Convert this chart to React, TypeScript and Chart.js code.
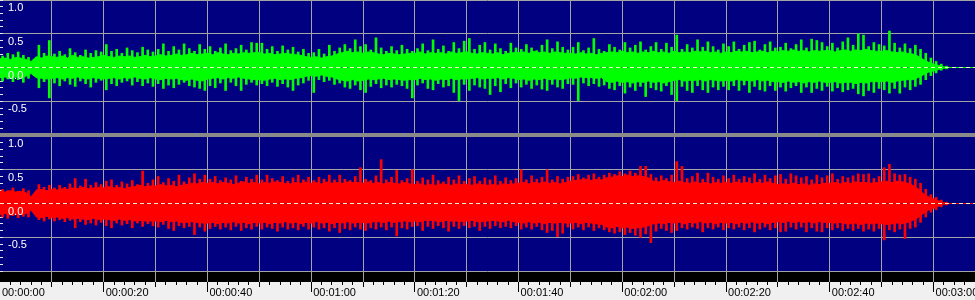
import React, { useEffect, useRef } from 'react';
import { Chart, registerables } from 'chart.js';

Chart.register(...registerables);

// ---- axis / time settings ----
const DURATION = 188; // seconds visible across the view
const GRID_STEP = 10; // vertical grid every 10 s
const MINOR_STEP = 2; // small ruler ticks every 2 s
const LABEL_STEP = 20; // time labels every 20 s
const Y_STEP = 0.1;

// ---- waveform values (hundredths of full scale), one entry per second ----
// body = dense part of the envelope at second t, peak = tallest spike in (t, t+1)
const greenBodyHi = [
  13,14,12,15,14,12,9,16,14,17, 16,15,17,14,18,15,16,14,15,16, 18,16,15,17,16,17,15,16,18,16,
  17,19,17,18,20,18,19,21,19,20, 21,19,22,20,19,21,20,22,21,22, 22,20,21,19,20,21,20,19,18,16,
  15,16,14,16,17,20,22,24,22,23, 21,23,22,20,19,21,20,19,20,21, 21,23,20,22,21,22,20,23,21,22,
  23,21,20,22,21,20,22,19,21,22, 22,23,21,24,22,23,21,23,22,21, 21,20,22,20,21,19,21,22,23,22,
  24,22,23,21,23,22,24,22,23,21, 24,22,23,22,24,23,24,22,23,21, 23,22,24,23,24,22,23,24,22,24,
  23,25,24,26,24,25,23,25,24,25, 25,23,25,26,24,26,25,27,25,24, 24,25,23,22,23,21,20,17,12,8,
  5,3,1,0,0,0,0,0,0,
];
const greenBodyLo = [
  -15,-14,-16,-14,-15,-13,-9,-15,-16,-17, -16,-15,-17,-15,-16,-14,-16,-17,-15,-16, -17,-16,-15,-17,-15,-16,-14,-16,-17,-15,
  -17,-18,-16,-17,-16,-18,-19,-17,-19,-20, -17,-16,-15,-17,-15,-16,-14,-16,-17,-18, -18,-19,-17,-16,-18,-17,-18,-16,-15,-13,
  -12,-13,-11,-13,-14,-17,-19,-20,-18,-20, -19,-17,-18,-17,-16,-18,-17,-18,-19,-18, -18,-16,-18,-17,-19,-17,-18,-16,-18,-17,
  -17,-16,-15,-17,-16,-16,-15,-17,-15,-16, -18,-17,-19,-17,-18,-16,-18,-17,-18,-17, -15,-16,-14,-15,-15,-16,-15,-21,-22,-20,
  -22,-21,-23,-21,-22,-20,-22,-21,-23,-21, -19,-18,-20,-19,-19,-18,-20,-18,-19,-20, -19,-20,-18,-19,-19,-20,-18,-20,-19,-21,
  -21,-22,-20,-22,-21,-23,-21,-22,-20,-22, -22,-21,-23,-22,-22,-24,-22,-23,-21,-21, -21,-20,-22,-20,-19,-18,-18,-15,-11,-7,
  -5,-3,-1,0,0,0,0,0,0,
];
const greenPeakHi = [
  17,21,19,23,18,15,11,33,21,40, 20,24,19,28,22,18,26,21,25,23, 34,24,27,21,29,25,22,30,26,23,
  27,35,24,31,26,35,28,24,34,27, 31,24,29,35,25,28,33,26,37,36, 36,27,31,24,32,26,30,23,27,21,
  22,27,20,33,24,29,34,28,41,31, 34,26,44,29,24,31,25,33,27,24, 28,35,25,41,27,32,24,37,28,39,
  43,27,33,37,26,35,28,24,36,29, 27,34,29,25,33,41,28,38,30,26, 30,37,25,29,43,27,24,34,30,26,
  37,29,33,38,26,31,37,27,36,30, 48,27,34,29,41,30,38,31,26,35, 31,38,27,33,37,39,26,34,38,29,
  30,36,28,34,41,29,42,40,37,31, 36,29,38,44,33,50,48,31,37,34, 32,54,36,29,35,28,33,27,21,14,
  9,5,2,
];
const greenPeakLo = [
  -20,-17,-21,-18,-22,-16,-11,-30,-21,-45, -23,-27,-20,-25,-28,-20,-24,-29,-22,-19, -33,-24,-27,-22,-20,-26,-21,-27,-23,-28,
  -24,-31,-26,-30,-25,-22,-27,-29,-31,-34, -27,-30,-23,-34,-22,-27,-34,-25,-22,-26, -24,-27,-22,-28,-24,-29,-34,-26,-23,-19,
  -37,-18,-21,-19,-25,-23,-29,-31,-26,-33, -37,-28,-24,-30,-26,-29,-25,-27,-31,-45, -26,-23,-31,-33,-24,-29,-27,-37,-49,-25,
  -34,-26,-29,-31,-40,-27,-36,-24,-30,-23, -29,-25,-31,-26,-32,-34,-25,-29,-31,-24, -25,-49,-23,-27,-24,-28,-26,-31,-33,-27,
  -38,-29,-34,-28,-43,-30,-33,-35,-27,-40, -49,-28,-34,-37,-27,-33,-37,-29,-33,-28, -33,-27,-34,-26,-37,-28,-33,-35,-27,-34,
  -29,-35,-30,-27,-37,-29,-37,-31,-34,-28, -35,-30,-36,-33,-31,-39,-42,-34,-37,-31, -33,-38,-31,-38,-29,-33,-28,-25,-18,-12,
  -8,-4,-2,
];

const redBodyHi = [
  18,17,19,17,18,16,10,20,21,19, 21,20,22,21,23,22,24,22,23,24, 23,25,23,24,22,24,25,27,25,26,
  26,28,26,27,25,27,28,30,29,31, 30,31,29,31,30,28,30,32,30,31, 29,31,30,32,31,30,29,31,30,32,
  30,31,29,32,30,31,30,32,31,31, 30,32,30,31,29,31,30,29,31,29, 28,29,27,28,27,29,28,27,29,28,
  28,27,29,28,27,28,27,29,28,29, 30,31,29,31,30,32,30,31,29,31, 33,34,35,36,34,36,35,38,39,41,
  40,42,40,41,40,38,33,32,34,32, 31,33,31,30,32,30,31,29,31,30, 31,30,32,30,31,29,31,30,32,30,
  28,29,28,30,28,29,27,29,28,30, 30,31,29,31,30,32,31,31,30,31, 32,33,31,33,32,30,27,22,15,10,
  7,4,1,0,0,0,0,0,0,
];
const redBodyLo = [
  -16,-15,-17,-16,-16,-15,-10,-20,-21,-19, -21,-20,-22,-21,-23,-22,-23,-24,-22,-24, -23,-24,-25,-23,-25,-24,-26,-25,-26,-26,
  -26,-27,-25,-27,-26,-28,-28,-27,-28,-29, -29,-28,-30,-28,-29,-27,-29,-28,-30,-28, -29,-28,-30,-28,-29,-27,-29,-28,-30,-28,
  -29,-27,-29,-28,-30,-28,-29,-27,-29,-28, -28,-29,-27,-27,-28,-26,-28,-27,-26,-27, -26,-27,-25,-25,-26,-27,-25,-26,-26,-27,
  -26,-25,-27,-27,-26,-25,-26,-27,-25,-27, -28,-29,-27,-29,-28,-30,-28,-29,-28,-29, -29,-28,-30,-28,-29,-30,-31,-35,-36,-34,
  -36,-35,-37,-36,-35,-33,-30,-29,-30,-28, -29,-28,-30,-28,-29,-27,-29,-28,-30,-28, -29,-28,-30,-28,-29,-27,-29,-28,-30,-28,
  -27,-28,-26,-28,-27,-28,-27,-29,-27,-28, -28,-29,-28,-30,-30,-29,-31,-29,-30,-29, -30,-31,-30,-29,-30,-28,-25,-21,-15,-10,
  -7,-4,-1,0,0,0,0,0,0,
];
const redPeakHi = [
  21,19,23,18,22,19,12,28,24,27, 23,27,24,29,37,26,36,27,31,28, 33,35,27,32,29,34,28,48,30,35,
  40,31,37,33,42,32,38,44,36,42, 36,40,34,38,35,41,33,39,36,42, 35,42,37,34,40,33,38,42,35,39,
  34,39,36,42,35,42,36,34,40,53, 36,34,41,65,35,39,49,34,37,50, 33,38,35,42,34,32,39,35,41,33,
  37,40,33,38,35,41,33,38,34,37, 50,35,41,36,39,50,35,40,36,39, 40,43,38,42,44,39,42,45,43,47,
  44,48,45,55,55,43,38,41,37,42, 62,55,37,40,45,36,45,39,36,41, 37,42,36,40,38,44,36,42,37,41,
  43,36,44,41,38,40,35,42,38,41, 44,36,40,38,41,44,43,44,37,40, 53,58,44,42,43,39,36,30,21,13,
  9,5,2,
];
const redPeakLo = [
  -20,-22,-18,-21,-19,-20,-12,-24,-26,-23, -26,-24,-27,-25,-36,-27,-31,-29,-32,-28, -33,-36,-29,-32,-30,-36,-29,-34,-30,-33,
  -35,-31,-37,-40,-33,-36,-34,-46,-35,-41, -37,-34,-38,-35,-39,-34,-40,-36,-38,-34, -38,-35,-37,-41,-35,-38,-36,-39,-34,-38,
  -35,-38,-36,-41,-36,-43,-37,-39,-35,-38, -40,-36,-38,-35,-39,-35,-48,-36,-38,-34, -33,-40,-34,-37,-33,-36,-41,-34,-37,-33,
  -36,-34,-40,-34,-37,-33,-36,-34,-36,-33, -38,-35,-38,-34,-39,-43,-40,-49,-44,-35, -38,-35,-39,-35,-40,-36,-39,-42,-44,-42,
  -46,-43,-47,-50,-45,-58,-41,-37,-40,-43, -40,-36,-38,-35,-37,-42,-36,-38,-35,-39, -36,-38,-35,-39,-36,-42,-38,-35,-39,-36,
  -42,-41,-35,-38,-35,-42,-36,-41,-42,-36, -39,-36,-40,-37,-40,-37,-41,-38,-41,-37, -54,-39,-42,-38,-52,-37,-35,-28,-20,-13,
  -9,-5,-2,
];

// ---- styles ----
const NAVY = '#000080';
const GRID = '#a4a4a4';
const SEP = '#8a8a8a';
const RULER_BG = '#f0f0f0';
const ZERO_COLOR = 'rgba(255,255,214,0.92)';
const GREEN = '#00ff00';
const RED = '#ff0000';
const FONT = { family: "'Liberation Sans', Arial, sans-serif", size: 11 };

const isMultiple = (v: number, step: number) => Math.abs(v / step - Math.round(v / step)) < 1e-6;

function fmtTime(v: number) {
  const s = Math.round(v);
  const hh = Math.floor(s / 3600);
  const mm = Math.floor((s % 3600) / 60);
  const ss = s % 60;
  return [hh, mm, ss].map((n) => String(n).padStart(2, '0')).join(':');
}

const zeroPad = (s: any) => {
  s.paddingTop = 0;
  s.paddingBottom = 0;
  s.paddingLeft = 0;
  s.paddingRight = 0;
};

const bgPlugin = {
  id: 'panelBg',
  beforeDraw(chart: any) {
    const { ctx, chartArea: a, scales } = chart;
    ctx.save();
    ctx.fillStyle = NAVY;
    ctx.fillRect(a.left, a.top, a.right - a.left, a.bottom - a.top);
    if (scales.xt) {
      ctx.fillStyle = '#000000';
      ctx.fillRect(0, scales.x.top, chart.width, scales.x.bottom - scales.x.top);
      ctx.fillStyle = RULER_BG;
      ctx.fillRect(0, scales.xt.top, chart.width, chart.height - scales.xt.top);
    }
    ctx.restore();
  },
};

function yAxis() {
  return {
    type: 'linear',
    position: 'left',
    min: -1,
    max: 1,
    bounds: 'data',
    afterFit: (s: any) => {
      s.width = 0;
      zeroPad(s);
    },
    border: { display: false },
    grid: {
      color: (c: any) => {
        const v = c.tick ? c.tick.value : 0;
        return isMultiple(v, 0.5) && Math.abs(v) > 1e-6 ? GRID : 'rgba(0,0,0,0)';
      },
      drawTicks: true,
      tickLength: -3,
      tickColor: '#e8e8e8',
      tickWidth: 1,
    },
    ticks: {
      z: 1,
      stepSize: Y_STEP,
      autoSkip: false,
      mirror: true,
      padding: 8,
      labelOffset: 8,
      color: '#ffffff',
      font: FONT,
      callback: (v: number) => (isMultiple(v, 0.5) && v > -0.99 ? v.toFixed(1) : ''),
    },
  };
}

function gridX(extra: any) {
  return {
    type: 'linear',
    position: 'bottom',
    min: 0,
    max: DURATION,
    bounds: 'data',
    offset: false,
    weight: 0,
    border: { display: false },
    grid: {
      offset: false,
      color: (c: any) => (c.tick && c.tick.value > 0 ? GRID : 'rgba(0,0,0,0)'),
      drawTicks: false,
    },
    ticks: { stepSize: GRID_STEP, display: false, includeBounds: false, autoSkip: false },
    afterFit: zeroPad,
    ...extra,
  };
}

function channelDatasets(bodyHi: number[], bodyLo: number[], peakHi: number[], peakLo: number[], color: string) {
  const body = (arr: number[]) => arr.map((v, i) => ({ x: i, y: v / 100 }));
  const peaks = peakHi.map((v, i) => ({ x: i + 0.5, y: [peakLo[i] / 100, v / 100] }));
  return [
    {
      type: 'line',
      data: [
        { x: 0, y: 0 },
        { x: DURATION, y: 0 },
      ],
      borderColor: ZERO_COLOR,
      borderWidth: 1,
      borderDash: [4, 3],
      pointRadius: 0,
      fill: false,
      order: 0,
    },
    {
      type: 'bar',
      data: peaks,
      backgroundColor: color,
      borderWidth: 0,
      barThickness: 2,
      grouped: false,
      order: 1,
    },
    {
      type: 'line',
      data: body(bodyHi),
      borderColor: color,
      backgroundColor: color,
      borderWidth: 1,
      pointRadius: 0,
      tension: 0,
      fill: 'origin',
      order: 2,
    },
    {
      type: 'line',
      data: body(bodyLo),
      borderColor: color,
      backgroundColor: color,
      borderWidth: 1,
      pointRadius: 0,
      tension: 0,
      fill: 'origin',
      order: 2,
    },
  ];
}

function makeConfig(which: 'top' | 'bottom'): any {
  const datasets =
    which === 'top'
      ? channelDatasets(greenBodyHi, greenBodyLo, greenPeakHi, greenPeakLo, GREEN)
      : channelDatasets(redBodyHi, redBodyLo, redPeakHi, redPeakLo, RED);
  const scales: any = { y: yAxis() };
  if (which === 'top') {
    scales.x = gridX({});
  } else {
    scales.x = gridX({
      grid: {
        offset: false,
        color: (c: any) => (c.tick && c.tick.value > 0 ? GRID : 'rgba(0,0,0,0)'),
        drawTicks: true,
        tickLength: 11,
        tickColor: (c: any) => (c.tick && c.tick.value > 0 ? GRID : 'rgba(0,0,0,0)'),
      },
      afterFit: (s: any) => {
        s.height = 11;
        zeroPad(s);
      },
    });
    scales.xt = {
      type: 'linear',
      position: 'bottom',
      min: 0,
      max: DURATION,
      bounds: 'data',
      offset: false,
      weight: 1,
      border: { display: false },
      afterFit: (s: any) => {
        s.height = 18;
        zeroPad(s);
      },
      grid: {
        offset: false,
        drawOnChartArea: false,
        drawTicks: true,
        tickLength: 10,
        tickWidth: 1,
        tickColor: (c: any) => (c.tick && c.tick.value > 0 ? '#000000' : 'rgba(0,0,0,0)'),
        tickBorderDash: (c: any) => {
          const v = c.tick ? c.tick.value : 0;
          if (isMultiple(v, LABEL_STEP)) return [];
          if (isMultiple(v, GRID_STEP)) return [5, 30];
          return [3, 30];
        },
      },
      ticks: {
        stepSize: MINOR_STEP,
        includeBounds: false,
        autoSkip: false,
        maxRotation: 0,
        minRotation: 0,
        align: 'start',
        padding: -6,
        labelOffset: 2,
        color: '#000000',
        font: FONT,
        callback: (v: number) => (isMultiple(v, LABEL_STEP) ? fmtTime(v) : ''),
      },
    };
  }
  return {
    type: 'bar',
    data: { datasets },
    options: {
      animation: false,
      responsive: false,
      maintainAspectRatio: false,
      events: [],
      layout: { padding: 0 },
      plugins: { legend: { display: false }, tooltip: { enabled: false } },
      scales,
    },
    plugins: [bgPlugin],
  };
}

export default function App() {
  const topRef = useRef<HTMLCanvasElement>(null);
  const botRef = useRef<HTMLCanvasElement>(null);
  useEffect(() => {
    const top = new Chart(topRef.current as HTMLCanvasElement, makeConfig('top'));
    const bot = new Chart(botRef.current as HTMLCanvasElement, makeConfig('bottom'));
    return () => {
      top.destroy();
      bot.destroy();
    };
  }, []);
  return (
    <div style={{ position: 'absolute', left: 0, top: 0, width: 975, height: 300, overflow: 'hidden', background: RULER_BG }}>
      <canvas ref={topRef} width={975} height={135} style={{ position: 'absolute', left: 0, top: 0, display: 'block' }} />
      <canvas ref={botRef} width={975} height={164} style={{ position: 'absolute', left: 0, top: 136, display: 'block' }} />
      <div style={{ position: 'absolute', left: 0, top: 133, width: 975, height: 4, background: SEP }} />
    </div>
  );
}
